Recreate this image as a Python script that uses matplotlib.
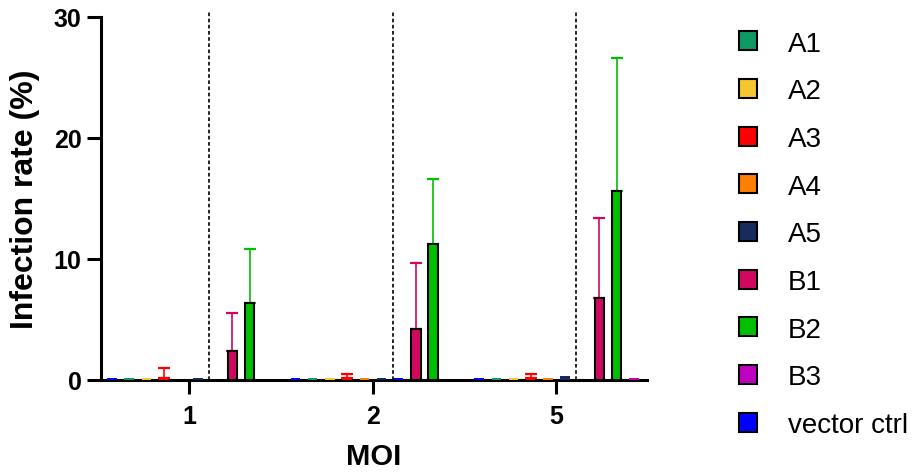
import matplotlib
matplotlib.use("Agg")
import matplotlib.pyplot as plt
from matplotlib.patches import Patch
import numpy as np

plt.rcParams['font.family'] = ['Liberation Sans', 'DejaVu Sans']

# MOI groups and the bar slots inside every group (left to right)
moi = ["1", "2", "5"]
slots = ["vector ctrl", "A1", "A2", "A3", "A4", "A5", "vector ctrl", "B1", "B2", "B3"]
legend_names = ["A1", "A2", "A3", "A4", "A5", "B1", "B2", "B3", "vector ctrl"]

colors = {
    "A1": "#0f9a65",
    "A2": "#f6c530",
    "A3": "#ff0000",
    "A4": "#ff7f00",
    "A5": "#162d5b",
    "B1": "#d0085f",
    "B2": "#00c000",
    "B3": "#c000c0",
    "vector ctrl": "#0000ff",
}

# mean infection rate (%) per slot, one value per MOI
vec_a = [0.2, 0.2, 0.2]
a1 = [0.2, 0.2, 0.2]
a2 = [0.15, 0.15, 0.15]
a3 = [0.2, 0.15, 0.15]
a4 = [0.0, 0.2, 0.2]
a5 = [0.15, 0.15, 0.3]
vec_b = [0.0, 0.15, 0.0]
b1 = [2.4, 4.2, 6.8]
b2 = [6.4, 11.2, 15.6]
b3 = [0.0, 0.0, 0.15]

# upper error (SD)
a3_sd = [0.8, 0.35, 0.35]
b1_sd = [3.1, 5.5, 6.6]
b2_sd = [4.4, 5.4, 11.0]

means = [vec_a, a1, a2, a3, a4, a5, vec_b, b1, b2, b3]
errs = [None, None, None, a3_sd, None, None, None, b1_sd, b2_sd, None]

fig = plt.figure(figsize=(9.22, 4.77), dpi=100)
ax = fig.add_axes([0.1095, 0.2013, 0.5922, 0.761])

G = 10.67  # distance between group centres, in bar slots
centers = np.arange(len(moi)) * G
width = 0.55

for i, name in enumerate(slots):
    x = centers + (i - 4.5)
    h = np.array(means[i])
    lw = [1.5 if v > 1 else 0 for v in h]
    ax.bar(x, h, width=width, color=colors[name], edgecolor="black",
           linewidth=lw, zorder=3)
    if errs[i] is not None:
        up = np.array(errs[i])
        ax.errorbar(x, h, yerr=[np.zeros_like(up), up], fmt="none",
                    ecolor=colors[name], elinewidth=1.2, capsize=4.3,
                    capthick=1.6, zorder=2.8)

for c in centers:
    ax.plot([c + 1.15, c + 1.15], [0, 30.4], color="black", lw=1.2,
            ls=(0, (2.2, 1.5)), clip_on=False, zorder=2)

ax.set_xlim(-5.14, 2 * G + 5.26)
ax.set_ylim(0, 30)
ax.set_xticks(centers)
ax.set_xticklabels(moi)
ax.set_yticks([0, 10, 20, 30])

for s in ["top", "right"]:
    ax.spines[s].set_visible(False)
for s in ["left", "bottom"]:
    ax.spines[s].set_linewidth(2.2)
    ax.spines[s].set_zorder(2.5)

ax.tick_params(axis="both", length=10, width=2.2, labelsize=18, pad=4)
ax.tick_params(axis="x", pad=7)
for lab in ax.get_xticklabels() + ax.get_yticklabels():
    lab.set_fontweight("bold")

ax.set_ylabel("Infection rate (%)", fontsize=23, fontweight="bold", labelpad=10)
ax.set_xlabel("MOI", fontsize=21, fontweight="bold", labelpad=10.5)

handles = [Patch(facecolor=colors[n], edgecolor="black", linewidth=1.5)
           for n in legend_names]
fig.legend(handles, legend_names, loc="upper left",
           bbox_to_anchor=(0.789, 0.957), frameon=False, fontsize=20,
           handlelength=0.68, handleheight=0.68, handletextpad=1.1,
           labelspacing=0.78, borderaxespad=0)

fig.savefig("out.png", dpi=100)
